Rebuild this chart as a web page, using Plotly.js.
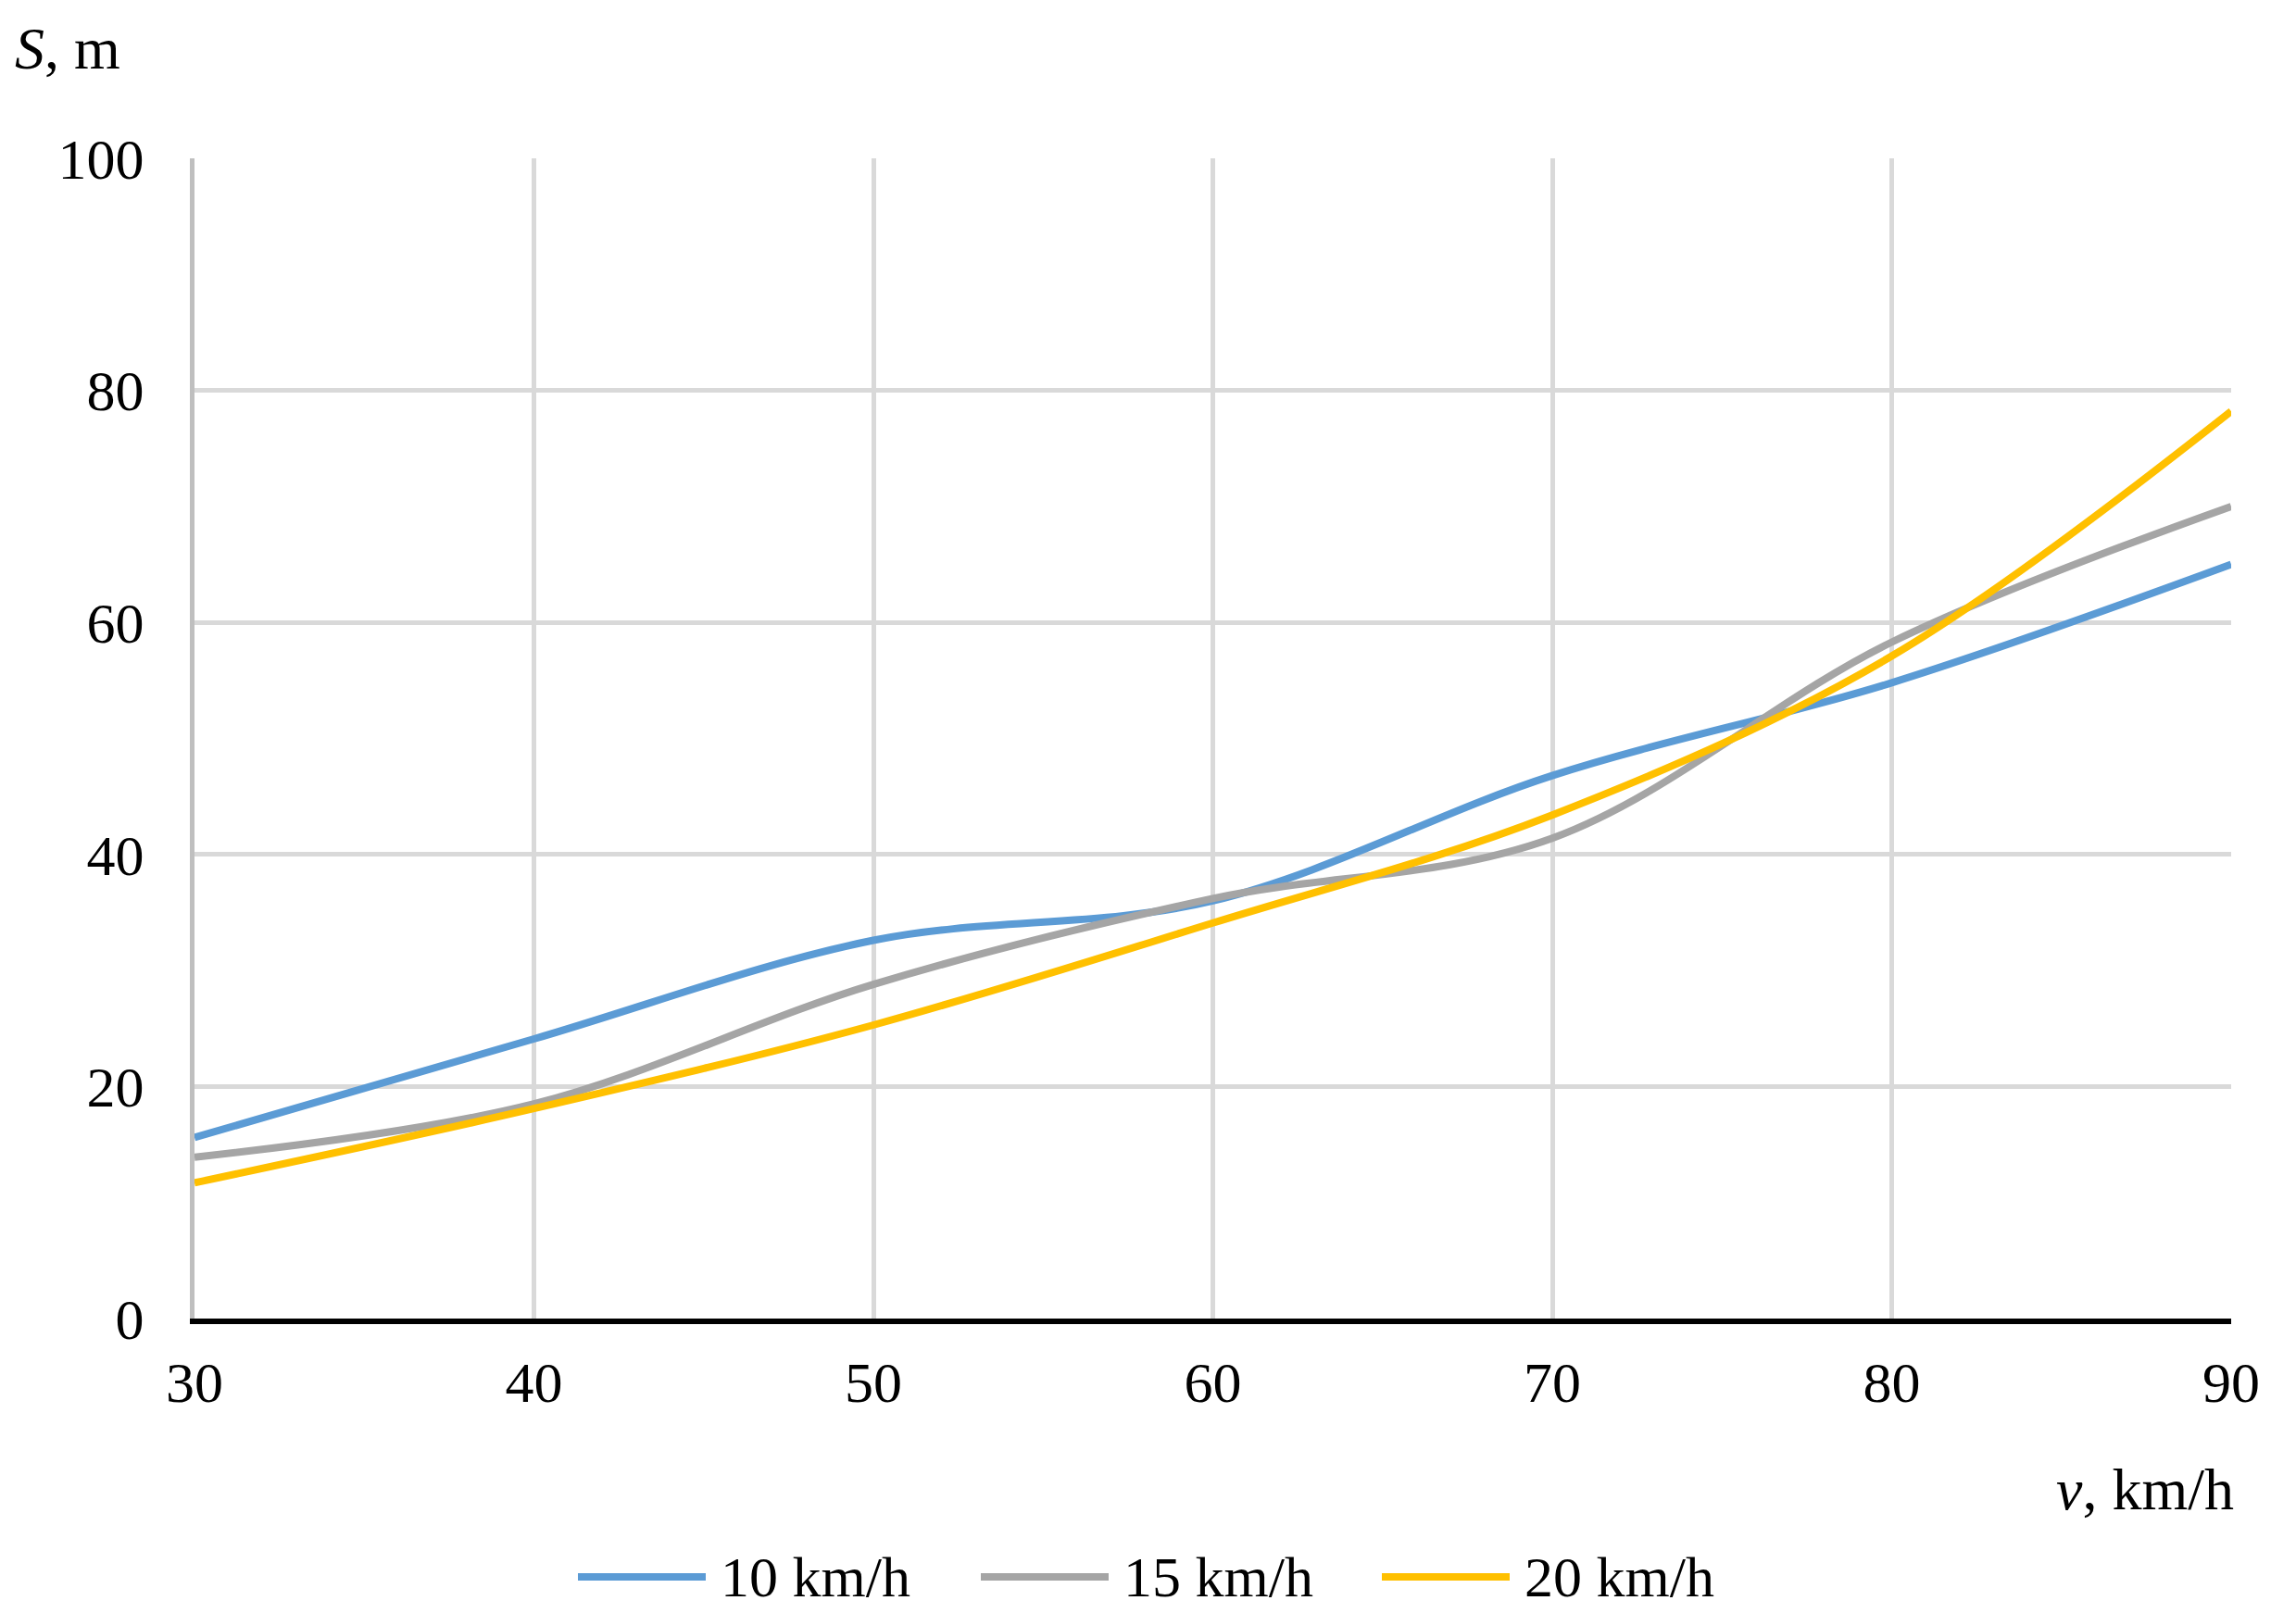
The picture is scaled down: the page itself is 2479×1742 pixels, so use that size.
<!DOCTYPE html>
<html>
<head>
<meta charset="utf-8">
<script src="https://cdn.plot.ly/plotly-3.0.1.min.js"></script>
<style>html,body{margin:0;padding:0;background:#fff;}#chart{width:2479px;height:1742px;}</style>
</head>
<body>
<div id="chart"></div>
<script>
// Data
const speeds = [30, 40, 50, 60, 70, 80, 90];           // v, km/h
const s10 = [15.6, 24.1, 32.6, 36.0, 46.8, 54.8, 65.0]; // 10 km/h
const s15 = [13.9, 18.5, 28.8, 36.2, 41.4, 58.3, 70.0]; // 15 km/h
const s20 = [11.7, 18.1, 25.3, 34.1, 43.4, 57.1, 78.2]; // 20 km/h
const seriesNames = ['10 km/h', '15 km/h', '20 km/h'];
const seriesColors = ['#5b9bd5', '#a5a5a5', '#ffc000'];
const xTicks = [30, 40, 50, 60, 70, 80, 90];
const yTicks = [0, 20, 40, 60, 80, 100];

const FONT = 'Liberation Serif, Times New Roman, serif';
const values = [s10, s15, s20];

const traces = values.map((ys, i) => ({
  x: speeds, y: ys, type: 'scatter', mode: 'lines',
  name: seriesNames[i],
  line: {color: seriesColors[i], width: 8, shape: 'spline', smoothing: 1},
  showlegend: false, hoverinfo: 'x+y'
}));

// custom legend (long line samples like the original)
const legX = [624, 1059, 1492];  // sample starts, px
const legLen = 138;
const legY = 1703;
const L = 210, R = 70, T = 171, B = 318, W = 2479, H = 1742;
const pw = W - L - R, ph = H - T - B;
const px2x = p => (p - L) / pw;
const py2y = p => (H - B - p) / ph;

const shapes = seriesNames.map((n, i) => ({
  type: 'line', xref: 'paper', yref: 'paper',
  x0: px2x(legX[i]), x1: px2x(legX[i] + legLen), y0: py2y(legY), y1: py2y(legY),
  line: {color: seriesColors[i], width: 8}
}));

const annotations = seriesNames.map((n, i) => ({
  xref: 'paper', yref: 'paper', x: px2x(legX[i] + legLen + 14), y: py2y(legY),
  xanchor: 'left', yanchor: 'middle', text: n, showarrow: false,
  font: {family: FONT, size: 62, color: '#000'}
}));
annotations.push({
  xref: 'paper', yref: 'paper', x: px2x(14), y: py2y(52), xanchor: 'left', yanchor: 'middle',
  text: '<i>S</i>, m', showarrow: false, font: {family: FONT, size: 64, color: '#000'}
});
annotations.push({
  xref: 'paper', yref: 'paper', x: px2x(2414), y: py2y(1608), xanchor: 'right', yanchor: 'middle',
  text: '<i>v</i>, km/h', showarrow: false, font: {family: FONT, size: 64, color: '#000'}
});

const layout = {
  width: W, height: H,
  margin: {l: L, r: R, t: T, b: B},
  paper_bgcolor: '#fff', plot_bgcolor: '#fff',
  showlegend: false,
  font: {family: FONT, size: 62, color: '#000'},
  xaxis: {
    range: [30, 90], tickvals: xTicks, ticktext: xTicks.map(String),
    showgrid: true, gridcolor: '#d9d9d9', gridwidth: 5,
    showline: true, linecolor: '#000', linewidth: 6,
    zeroline: false, ticks: '', ticklabelstandoff: 10,
    tickfont: {family: FONT, size: 62, color: '#000'}
  },
  yaxis: {
    range: [0, 100], tickvals: yTicks, ticktext: yTicks.map(String),
    showgrid: true, gridcolor: '#d9d9d9', gridwidth: 5,
    showline: true, linecolor: '#bfbfbf', linewidth: 5,
    zeroline: false, ticks: '', ticklabelstandoff: 37,
    tickfont: {family: FONT, size: 62, color: '#000'}
  },
  shapes: shapes,
  annotations: annotations
};

Plotly.newPlot('chart', traces, layout, {displayModeBar: false, staticPlot: true});
</script>
</body>
</html>
